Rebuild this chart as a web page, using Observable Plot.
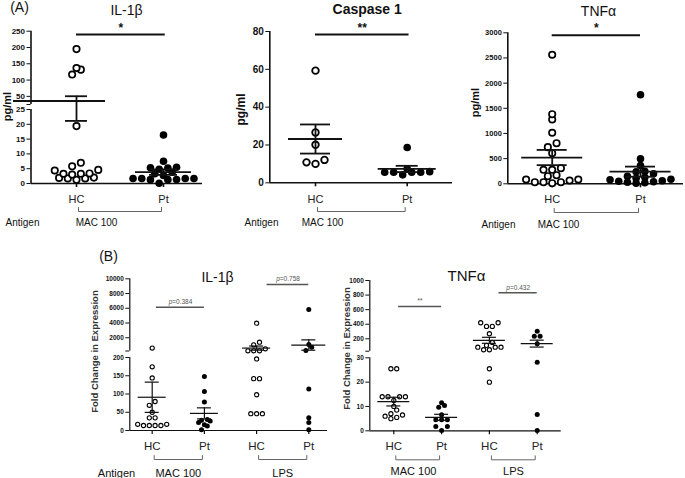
<!DOCTYPE html>
<html><head><meta charset="utf-8">
<script src="https://cdn.jsdelivr.net/npm/d3@7"></script>
<script src="https://cdn.jsdelivr.net/npm/@observablehq/plot@0.6"></script>
<style>
body{margin:0;background:#fff;}
#fig{position:relative;width:685px;height:478px;overflow:hidden;background:#fff;}
#fig svg{position:absolute;}
</style></head><body><div id="fig"></div>
<script>
// ---------------- data ----------------
const groupLabels2 = ["HC", "Pt"];
const groupLabels4 = ["HC", "Pt", "HC", "Pt"];
const antigenLabels = ["MAC 100", "LPS"];

// (A) IL-1β, pg/ml
const il1b_HC = [195, 132, 117, 137, 19.4, 7, 3.4, 2, 4.6, 1.7, 4.4, 3, 1.25, 3.3, 1.7, 5.8, 1.9, 3.3];
const il1b_Pt = [16.4, 7.5, 5.3, 3.8, 4.8, 5.2, 5.5, 1.7, 1.7, 1.35, 1.3, 1.7, 1.3, 1.7, 0.1, 2.7, 3.3];
const il1bTicks = [0, 5, 10, 15, 20, 25, 50, 100, 150, 200, 250];

// (A) Caspase 1, pg/ml
const casp_HC = [59.3, 26.6, 20.1, 12.1, 10, 10.8];
const casp_Pt = [18.7, 7.4, 5.6, 5.6, 4.2, 5.6, 5.6, 5.9];
const caspTicks = [0, 20, 40, 60, 80];

// (A) TNFα, pg/ml
const tnf_HC = [2564, 1383, 1278, 1014, 807, 728, 608, 278, 278, 310, 151, 171, 85, 32, 32, 12, 32, 66, 85];
const tnf_Pt = [1770, 497, 364, 250, 240, 200, 150, 130, 110, 90, 80, 60, 50, 40, 30, 20, 10];
const tnfTicks = [0, 500, 1000, 1500, 2000, 2500, 3000];

// (B) IL-1β fold change
const fil1b_HC_MAC = [600, 174.5, 144, 79.4, 69, 50, 34.7, 34.7, 17, 13.7, 13.7, 13.7, 13.7, 17];
const fil1b_Pt_MAC = [148, 107, 78, 30, 26, 22, 28, 16, 12, 2];
const fil1b_HC_LPS = [3974, 1395, 1040, 500, 230, 230, 230, 196, 142, 142, 98, 46, 46, 46];
const fil1b_Pt_LPS = [5833, 1082, 716, 270, 114, 35, 22, 2];
const fil1bTicks = [0, 50, 100, 150, 200, 2000, 4000, 6000, 8000, 10000];

// (B) TNFα fold change
const ftnf_HC_MAC = [25.5, 25.5, 14, 14, 14, 14, 12.5, 10, 8.5, 7, 6.5, 6, 5.5, 5];
const ftnf_Pt_MAC = [10.4, 9.7, 11.5, 6.6, 4.5, 4.5, 4.5, 1.8, 1.8, 0.1];
const ftnf_HC_LPS = [420, 370, 370, 420, 270, 150, 85, 85, 50, 50, 85, 110, 25.5, 20];
const ftnf_Pt_LPS = [303, 235, 235, 131, 28.2, 6.7, 0.1];
const ftnfTicks = [0, 10, 20, 30, 200, 400, 600, 800, 1000];

// ---------------- helpers ----------------
const FONT = "Arial, 'Liberation Sans', Helvetica, sans-serif";

// Prism-like scatter layout: points close in height share a row, rows are centred
function swarm(values, ypx, spacing, rowH) {
  const pts = values.map(v => ({v, py: ypx(v)})).sort((a, b) => b.py - a.py);
  const rows = [];
  for (const p of pts) {
    const r = rows[rows.length - 1];
    if (r && r.anchor - p.py < rowH) r.pts.push(p); else rows.push({anchor: p.py, pts: [p]});
  }
  for (const r of rows) {
    const m = r.pts.length;
    const slots = d3.range(m).map(k => (k - (m - 1) / 2) * spacing)
      .sort((a, b) => Math.abs(a) - Math.abs(b) || a - b);
    r.pts.slice().sort((a, b) => a.v - b.v).forEach((p, k) => { p.off = slots[k]; });
  }
  return pts;
}

function makePanel(c) {
  const L = c.box.left, T = c.box.top, W = c.box.w, H = c.box.h;
  const lx = px => px - L, ly = py => py - T;
  const n = c.groups.length;
  const x0 = lx(c.groupPx[0]), x1 = lx(c.groupPx[1]);
  const unit = (x1 - x0) / (n - 1);
  const xs = d3.scaleLinear().domain([0, n - 1]).range([x0, x1]);
  const yDom = [], yRan = [];
  c.segs.forEach((s, k) => {
    const d0 = k === 0 ? s.domain[0] : s.domain[0] + (s.domain[1] - s.domain[0]) * 1e-7;
    yDom.push(d0, s.domain[1]);
    yRan.push(ly(s.range[0]), ly(s.range[1]));
  });
  const ys = d3.scaleLinear().domain(yDom).range(yRan);
  const Y = py => ys.invert(ly(py));
  const X = px => xs.invert(lx(px));
  const axisV = X(c.axisX);
  // unlabeled ticks at the bottom of each upper axis segment (axis break)
  const breakTicks = yDom.filter((d, k) => k > 0 && k % 2 === 0);
  const labelled = new Set(c.ticks);

  const open = [], filled = [];
  c.groups.forEach((g, i) => {
    swarm(g.values, ys, c.spacing, c.rowH).forEach(p => {
      (g.filled ? filled : open).push({x: i + p.off / unit, y: p.v});
    });
  });
  const stats = c.groups.map((g, i) => {
    const m = d3.mean(g.values), se = d3.deviation(g.values) / Math.sqrt(g.values.length);
    const ml = g.meanL ?? g.meanHW, mr = g.meanR ?? g.meanHW;
    return {i, m, lo: m - se, hi: m + se, ml: ml / unit, mr: mr / unit, shw: g.semHW / unit};
  });
  const segRules = c.segs.map((s, k) => ({a: yDom[2 * k], b: yDom[2 * k + 1]}));
  const brPts = c.brackets.flatMap((b, k) => {
    const d = 2 / unit, yb = Y(b.yPx), yt = Y(b.yPx - c.brH);
    return [{k, x: b.from + d, y: yt}, {k, x: b.from + d, y: yb}, {k, x: b.to - d, y: yb}, {k, x: b.to - d, y: yt}];
  });
  const texts = c.texts.map(t => ({...t, xv: X(t.xPx), yv: Y(t.yPx)}));
  const textOpts = {x: "xv", y: "yv", text: "text", fontSize: d => d.size,
    rotate: d => d.rotate || 0, fill: d => d.fill || "#111", lineAnchor: "middle"};
  const plainSigs = c.sigs.filter(s => !s.pre), pSigs = c.sigs.filter(s => s.pre);
  const fs = c.sigFont;
  const sigX = d => (d.from + d.to) / 2;

  const marks = [
    Plot.ruleX(segRules, {x: axisV, y1: "a", y2: "b", strokeWidth: c.axisW}),
    Plot.ruleY([0], {strokeWidth: c.axisW}),
    Plot.ruleX(d3.range(n), {x: d => d, y1: 0, y2: Y(c.baseY + 4), strokeWidth: c.axisW}),
    Plot.dot(open, {x: "x", y: "y", r: c.rOpen, fill: "white", stroke: "black", strokeWidth: c.dotSW}),
    Plot.dot(filled, {x: "x", y: "y", r: c.rFill, fill: "black"}),
    Plot.ruleY(stats, {y: "m", x1: d => d.i - d.ml, x2: d => d.i + d.mr, strokeWidth: c.lineW}),
    Plot.ruleX(stats, {x: "i", y1: "lo", y2: "hi", strokeWidth: c.lineW}),
    Plot.ruleY(stats, {y: "lo", x1: d => d.i - d.shw, x2: d => d.i + d.shw, strokeWidth: c.lineW}),
    Plot.ruleY(stats, {y: "hi", x1: d => d.i - d.shw, x2: d => d.i + d.shw, strokeWidth: c.lineW}),
    Plot.ruleY(c.sigs, {y: d => Y(d.yPx), x1: "from", x2: "to", stroke: c.sigColor, strokeWidth: c.sigW}),
    Plot.text(plainSigs, {x: sigX, y: d => Y(d.labelPx), text: "label", fill: c.sigColor,
      fontSize: fs, fontWeight: c.sigWeight, lineAnchor: "middle"}),
    // "p" in italics, followed by the value
    Plot.text(pSigs, {x: sigX, y: d => Y(d.labelPx), text: "pre", fill: c.sigColor, fontSize: fs,
      fontStyle: "italic", fontWeight: "normal", textAnchor: "end", lineAnchor: "middle", dx: -fs * 1.25}),
    Plot.text(pSigs, {x: sigX, y: d => Y(d.labelPx), text: "label", fill: c.sigColor, fontSize: fs,
      fontWeight: "normal", textAnchor: "start", lineAnchor: "middle", dx: -fs * 1.25}),
    Plot.text(c.groups, {x: (d, i) => i, y: Y(c.groupLabelY), text: "label", fontSize: c.groupFont,
      fontWeight: "normal", fill: "#222", lineAnchor: "middle"}),
    Plot.line(brPts, {x: "x", y: "y", z: "k", stroke: "#666", strokeWidth: 1}),
    Plot.text(texts.filter(t => t.weight === "bold"), {...textOpts, fontWeight: "bold"}),
    Plot.text(texts.filter(t => t.weight !== "bold"), {...textOpts, fontWeight: "normal"})
  ];

  const svg = Plot.plot({
    width: W, height: H,
    marginLeft: lx(c.axisX), marginRight: W - lx(c.xEnd),
    marginTop: Math.min(...yRan), marginBottom: H - ly(c.baseY),
    x: {type: "linear", domain: [0, n - 1], range: [x0, x1], axis: null},
    y: {type: "linear", domain: yDom, range: yRan, ticks: c.ticks.concat(breakTicks),
        tickFormat: d => labelled.has(d) ? String(d) : "",
        tickSize: 4, tickPadding: 2, label: null},
    style: {fontFamily: FONT, fontSize: c.tickFont + "px", fontWeight: "bold", background: "transparent",
            color: "#111", overflow: "visible"},
    marks
  });
  svg.style.left = L + "px";
  svg.style.top = T + "px";
  document.getElementById("fig").appendChild(svg);
}

// ---------------- panels ----------------
const A = {axisW: 1.6, lineW: 1.8, sigColor: "#111", sigW: 2, sigFont: 12, sigWeight: "bold",
           groupFont: 11, brH: 4, spacing: 8.7, rowH: 5, rOpen: 3.2, rFill: 3.8, dotSW: 1.7};
const B = {axisW: 1.2, lineW: 1.2, sigColor: "#555", sigW: 1.4, sigFont: 6.5, sigWeight: "normal",
           groupFont: 11.5, brH: 4, spacing: 5.8, rowH: 4.2, rOpen: 2.1, rFill: 2.5, dotSW: 1.1};

makePanel({...A,
  box: {left: 0, top: 0, w: 228, h: 232},
  axisX: 30.5, baseY: 183, xEnd: 202, groupPx: [76, 163],
  segs: [{domain: [0, 25], range: [183, 109]}, {domain: [25, 250], range: [104, 30.7]}],
  ticks: il1bTicks, tickFont: 8,
  groups: [
    {label: groupLabels2[0], values: il1b_HC, filled: false, meanL: 63, meanR: 29, semHW: 11},
    {label: groupLabels2[1], values: il1b_Pt, filled: true, meanHW: 28, semHW: 14}],
  sigs: [{from: 0, to: 1.02, yPx: 34, labelPx: 28, label: "*"}],
  groupLabelY: 199,
  brackets: [{from: 0, to: 1, yPx: 211}],
  texts: [
    {text: "(A)", xPx: 19, yPx: 7, size: 14},
    {text: "IL-1β", xPx: 126, yPx: 10, size: 14},
    {text: "pg/ml", xPx: 7, yPx: 106, size: 11, weight: "bold", rotate: -90},
    {text: "Antigen", xPx: 22, yPx: 222, size: 10},
    {text: antigenLabels[0], xPx: 96, yPx: 222, size: 10}]
});

makePanel({...A,
  box: {left: 228, top: 0, w: 226, h: 232},
  axisX: 269.3, baseY: 182.3, xEnd: 452, groupPx: [315, 406.7],
  segs: [{domain: [0, 80], range: [182.3, 31]}],
  ticks: caspTicks, tickFont: 10, rOpen: 3.3, dotSW: 1.8, spacing: 9,
  groups: [
    {label: groupLabels2[0], values: casp_HC, filled: false, meanHW: 27, semHW: 15},
    {label: groupLabels2[1], values: casp_Pt, filled: true, meanHW: 29, semHW: 11}],
  sigs: [{from: 0, to: 1.02, yPx: 34, labelPx: 28, label: "**"}],
  groupLabelY: 199,
  brackets: [{from: 0, to: 1, yPx: 211}],
  texts: [
    {text: "Caspase 1", xPx: 366.7, yPx: 9, size: 14, weight: "bold"},
    {text: "pg/ml", xPx: 241, yPx: 109, size: 12, weight: "bold", rotate: -90},
    {text: "Antigen", xPx: 261, yPx: 222, size: 10},
    {text: antigenLabels[0], xPx: 322, yPx: 222, size: 10}]
});

makePanel({...A,
  box: {left: 454, top: 0, w: 231, h: 232},
  axisX: 507.3, baseY: 183.3, xEnd: 683, groupPx: [551.7, 640],
  segs: [{domain: [0, 3000], range: [183.3, 32.3]}],
  ticks: tnfTicks, tickFont: 7.5,
  groups: [
    {label: groupLabels2[0], values: tnf_HC, filled: false, meanHW: 30.5, semHW: 15},
    {label: groupLabels2[1], values: tnf_Pt, filled: true, meanHW: 30.5, semHW: 15}],
  sigs: [{from: 0, to: 1, yPx: 34.7, labelPx: 28, label: "*"}],
  groupLabelY: 199,
  brackets: [{from: 0, to: 1, yPx: 212}],
  texts: [
    {text: "TNFα", xPx: 598, yPx: 11, size: 14},
    {text: "pg/ml", xPx: 475, yPx: 102, size: 11, weight: "bold", rotate: -90},
    {text: "Antigen", xPx: 498, yPx: 224, size: 10},
    {text: antigenLabels[0], xPx: 558, yPx: 224, size: 10}]
});

makePanel({...B,
  box: {left: 84, top: 240, w: 252, h: 238},
  axisX: 129.3, baseY: 430, xEnd: 327, groupPx: [151.7, 308.3],
  segs: [{domain: [0, 200], range: [430, 357]}, {domain: [200, 10000], range: [350.5, 278.3]}],
  ticks: fil1bTicks, tickFont: 6.5,
  groups: [
    {label: groupLabels4[0], values: fil1b_HC_MAC, filled: false, meanHW: 14, semHW: 7},
    {label: groupLabels4[1], values: fil1b_Pt_MAC, filled: true, meanHW: 14, semHW: 7},
    {label: groupLabels4[2], values: fil1b_HC_LPS, filled: false, meanHW: 14, semHW: 7},
    {label: groupLabels4[3], values: fil1b_Pt_LPS, filled: true, meanHW: 17, semHW: 7}],
  sigs: [{from: 0.08, to: 1, yPx: 306.7, labelPx: 301, pre: "p", label: "=0.384"},
         {from: 2.2, to: 3, yPx: 284, labelPx: 278.5, pre: "p", label: "=0.758"}],
  groupLabelY: 446,
  brackets: [{from: 0, to: 1, yPx: 459}, {from: 2, to: 3, yPx: 459}],
  texts: [
    {text: "(B)", xPx: 108, yPx: 256, size: 14},
    {text: "IL-1β", xPx: 217, yPx: 277, size: 14},
    {text: "Fold Change in Expression", xPx: 94, yPx: 351, size: 9.5, weight: "bold", rotate: -90, fill: "#333"},
    {text: "Antigen", xPx: 116, yPx: 473, size: 11},
    {text: antigenLabels[0], xPx: 177.8, yPx: 473, size: 11},
    {text: antigenLabels[1], xPx: 282.2, yPx: 473, size: 11}]
});

makePanel({...B,
  box: {left: 336, top: 240, w: 240, h: 238},
  axisX: 369.3, baseY: 430.3, xEnd: 560.7, groupPx: [393.3, 536.7],
  segs: [{domain: [0, 30], range: [430.3, 357.3]}, {domain: [30, 1000], range: [350.7, 280]}],
  ticks: ftnfTicks, tickFont: 6.5,
  groups: [
    {label: groupLabels4[0], values: ftnf_HC_MAC, filled: false, meanHW: 16, semHW: 7},
    {label: groupLabels4[1], values: ftnf_Pt_MAC, filled: true, meanHW: 16, semHW: 7},
    {label: groupLabels4[2], values: ftnf_HC_LPS, filled: false, meanHW: 16, semHW: 7},
    {label: groupLabels4[3], values: ftnf_Pt_LPS, filled: true, meanHW: 16, semHW: 7}],
  sigs: [{from: 0.1, to: 1, yPx: 306, labelPx: 300.5, label: "**"},
         {from: 2.2, to: 3, yPx: 292.3, labelPx: 287, pre: "p", label: "=0.432"}],
  groupLabelY: 446,
  brackets: [{from: 0, to: 1, yPx: 459.3}, {from: 2, to: 3, yPx: 459.3}],
  texts: [
    {text: "TNFα", xPx: 466, yPx: 276, size: 15},
    {text: "Fold Change in Expression", xPx: 346, yPx: 348, size: 9.5, weight: "bold", rotate: -90, fill: "#333"},
    {text: antigenLabels[0], xPx: 413, yPx: 471, size: 11},
    {text: antigenLabels[1], xPx: 513, yPx: 471, size: 11}]
});
</script>
</body></html>
